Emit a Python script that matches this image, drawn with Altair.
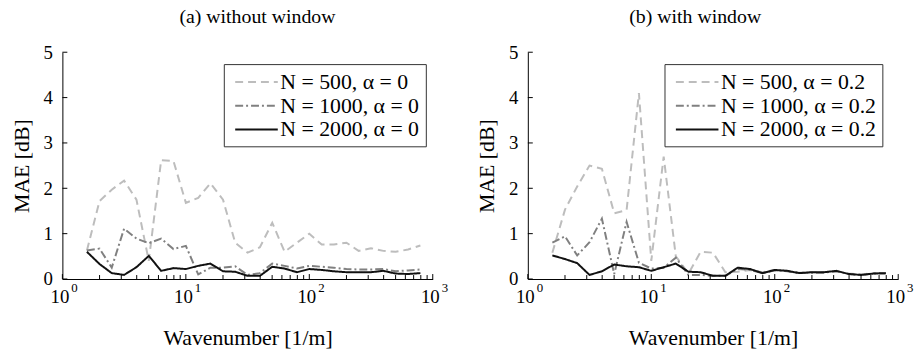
import altair as alt
import pandas as pd

FONT = "Liberation Serif, Times New Roman, Times, DejaVu Serif, serif"

wavenumber = [1.58, 2.0, 2.51, 3.16, 3.98, 5.01, 6.31, 7.94, 10.0, 12.6, 15.8, 20.0, 25.1, 31.6,
              39.8, 50.1, 63.1, 79.4, 100.0, 126.0, 158.0, 200.0, 251.0, 316.0, 398.0, 501.0, 631.0, 794.0]

a_n500 = [0.63, 1.72, 1.97, 2.17, 1.75, 0.40, 2.62, 2.60, 1.68, 1.79, 2.11, 1.75, 0.80, 0.58,
          0.70, 1.24, 0.60, 0.80, 1.00, 0.76, 0.76, 0.80, 0.62, 0.68, 0.62, 0.60, 0.65, 0.74]
a_n1000 = [0.63, 0.67, 0.25, 1.11, 0.89, 0.79, 0.89, 0.66, 0.73, 0.10, 0.25, 0.25, 0.28, 0.09,
           0.13, 0.34, 0.29, 0.23, 0.29, 0.27, 0.25, 0.22, 0.21, 0.21, 0.22, 0.17, 0.19, 0.21]
a_n2000 = [0.60, 0.33, 0.13, 0.09, 0.26, 0.51, 0.18, 0.24, 0.22, 0.29, 0.34, 0.17, 0.16, 0.07,
           0.07, 0.27, 0.23, 0.15, 0.22, 0.20, 0.17, 0.15, 0.15, 0.15, 0.18, 0.12, 0.11, 0.13]

b_n500 = [0.58, 1.53, 2.04, 2.50, 2.43, 1.45, 1.52, 4.10, 0.40, 2.70, 0.50, 0.12, 0.60, 0.58,
          0.15, 0.16, 0.20, 0.15, 0.20, 0.18, 0.14, 0.15, 0.15, 0.17, 0.12, 0.10, 0.13, 0.13]
b_n1000 = [0.80, 0.94, 0.52, 0.81, 1.33, 0.11, 1.26, 0.36, 0.23, 0.25, 0.47, 0.09, 0.09, 0.07,
           0.07, 0.22, 0.20, 0.13, 0.19, 0.17, 0.13, 0.14, 0.14, 0.17, 0.11, 0.09, 0.12, 0.12]
b_n2000 = [0.52, 0.44, 0.35, 0.09, 0.17, 0.32, 0.28, 0.26, 0.18, 0.26, 0.34, 0.16, 0.15, 0.07,
           0.07, 0.25, 0.22, 0.13, 0.20, 0.18, 0.13, 0.15, 0.15, 0.18, 0.11, 0.09, 0.12, 0.13]

labels_a = ["N = 500, α = 0", "N = 1000, α = 0", "N = 2000, α = 0"]
labels_b = ["N = 500, α = 0.2", "N = 1000, α = 0.2", "N = 2000, α = 0.2"]
titles = ["(a) without window", "(b) with window"]

y_ticks = [0, 1, 2, 3, 4, 5]
x_major = [1, 10, 100, 1000]
x_exponents = ["0", "1", "2", "3"]
x_minor = [2, 3, 4, 5, 6, 7, 8, 9, 20, 30, 40, 50, 60, 70, 80, 90,
           200, 300, 400, 500, 600, 700, 800, 900]

colors = ["#bdbdbd", "#808080", "#111111"]
dashes = [[8, 5], [8, 3, 2, 3], [1, 0]]

W, H = 374, 229


def panel(title, labels, series, legend_x, title_dx):
    rows = []
    for lab, vals in zip(labels, series):
        for x, v in zip(wavenumber, vals):
            rows.append({"k": x, "mae": v, "series": lab})
    df = pd.DataFrame(rows)
    xscale = alt.Scale(type="log", domain=[1, 1000], nice=False)
    yscale = alt.Scale(domain=[0, 5], nice=False, zero=False)
    xaxis = alt.Axis(values=x_major, labelExpr="'10'", title="Wavenumber [1/m]",
                     labelFlush=False, labelOffset=-3, labelPadding=9, titlePadding=21)
    yaxis = alt.Axis(values=y_ticks, title="MAE [dB]", labelPadding=10, titlePadding=10)
    legend = alt.Legend(
        orient="none", legendX=legend_x, legendY=12, title=None, direction="vertical",
        strokeColor="#333333", fillColor="white", padding=6,
        symbolType="M-2,0H2", symbolSize=462, symbolStrokeWidth=2, symbolOffset=15,
        labelFont=FONT, labelFontSize=22, labelColor="black", labelOffset=12,
        rowPadding=1, labelLimit=400,
    )
    lines = alt.Chart(df).mark_line(strokeWidth=2).encode(
        x=alt.X("k:Q", scale=xscale, axis=xaxis),
        y=alt.Y("mae:Q", scale=yscale, axis=yaxis),
        color=alt.Color("series:N", scale=alt.Scale(domain=labels, range=colors), legend=legend),
        strokeDash=alt.StrokeDash("series:N", scale=alt.Scale(domain=labels, range=dashes), legend=legend),
    )
    ydf = pd.DataFrame({"mae": y_ticks})
    ytick = alt.Chart(ydf).mark_rule(color="black", strokeWidth=1).encode(
        y=alt.Y("mae:Q", scale=yscale, axis=yaxis), x=alt.value(0), x2=alt.value(5))
    mdf = pd.DataFrame({"k": x_major, "e": x_exponents})
    xmaj = alt.Chart(mdf).mark_rule(color="black", strokeWidth=1).encode(
        x=alt.X("k:Q", scale=xscale, axis=xaxis), y=alt.value(H), y2=alt.value(H - 5))
    ndf = pd.DataFrame({"k": x_minor})
    xmin = alt.Chart(ndf).mark_rule(color="black", strokeWidth=1).encode(
        x=alt.X("k:Q", scale=xscale, axis=xaxis), y=alt.value(H), y2=alt.value(H - 4))
    sup = alt.Chart(mdf).mark_text(align="left", baseline="middle", font=FONT, fontSize=13,
                                   dx=9, color="black").encode(
        x=alt.X("k:Q", scale=xscale, axis=xaxis), y=alt.value(H + 9), text="e:N")
    return alt.layer(lines, ytick, xmaj, xmin, sup).properties(
        width=W, height=H,
        title=alt.TitleParams(text=title, font=FONT, fontSize=20, fontWeight="normal",
                              anchor="middle", frame="group", offset=17, dx=title_dx,
                              color="black"),
    )


left = panel(titles[0], labels_a, [a_n500, a_n1000, a_n2000], 163, 10)
right = panel(titles[1], labels_b, [b_n500, b_n1000, b_n2000], 138, -18)

chart = alt.hconcat(left, right, spacing=27).resolve_scale(
    color="independent", strokeDash="independent"
).properties(
    padding={"left": 10, "top": 5, "right": 5, "bottom": 5}
).configure_view(stroke=None).configure_axis(
    domainColor="black", domainWidth=1, ticks=False, grid=False,
    labelFont=FONT, labelFontSize=19, labelColor="black",
    titleFont=FONT, titleFontSize=22, titleFontWeight="normal", titleColor="black",
)

chart.save("out.html", embed_options={"renderer": "svg", "actions": False})
